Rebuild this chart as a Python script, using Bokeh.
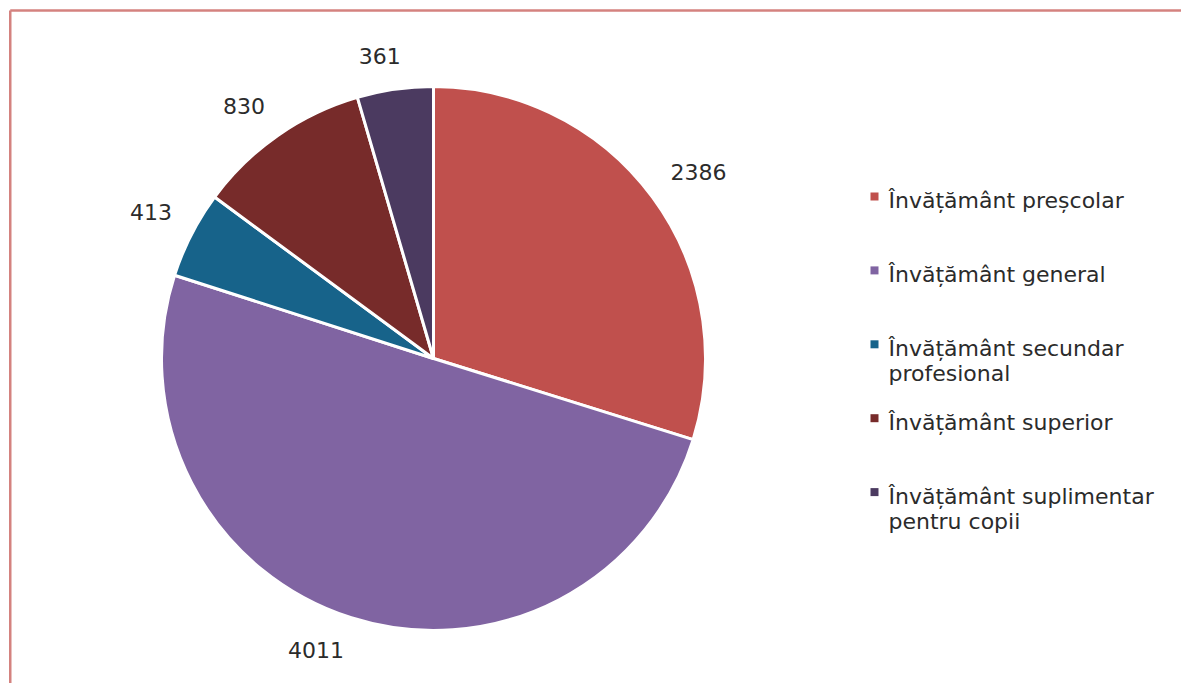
import math
from bokeh.plotting import figure
from bokeh.models import Range1d
from bokeh.core.properties import value
from bokeh.embed import file_html
from bokeh.resources import INLINE

categories = ["Învățământ preșcolar", "Învățământ general",
              "Învățământ secundar profesional", "Învățământ superior",
              "Învățământ suplimentar pentru copii"]
legend_lines = [["Învățământ preșcolar"], ["Învățământ general"],
                ["Învățământ secundar", "profesional"], ["Învățământ superior"],
                ["Învățământ suplimentar", "pentru copii"]]
values = [2386, 4011, 413, 830, 361]
colors = ["#C0504D", "#8064A2", "#17638A", "#772B2A", "#4B3A60"]

W, H = 1181, 683
p = figure(width=W, height=H, output_backend="svg", toolbar_location=None,
           x_range=Range1d(0, W), y_range=Range1d(-H, 0),
           min_border=0, outline_line_color=None)
p.axis.visible = False
p.grid.visible = False
p.background_fill_color = "white"
p.border_fill_color = "white"

FONT = "DejaVu Sans"
FS = "22px"
TXT = "#2b2b2b"

# frame border (top & left visible)
p.segment(x0=[9.75, 9.75], y0=[-10, -10], x1=[9.75, W], y1=[-H, -10],
          line_color="#D4827F", line_width=2.5)

cx, cy, R = 433, -358, 272
total = float(sum(values))
cum = 0.0
starts, ends, mids = [], [], []
for v in values:
    a0 = math.pi / 2 - 2 * math.pi * cum / total
    cum += v
    a1 = math.pi / 2 - 2 * math.pi * cum / total
    starts.append(a0)
    ends.append(a1)
    mids.append((a0 + a1) / 2)

p.wedge(x=[cx] * len(values), y=[cy] * len(values), radius=R,
        start_angle=starts, end_angle=ends, direction="clock",
        fill_color=colors, line_color="white", line_width=3)

# data labels, outside end
lx, ly, lt = [], [], []
gap, bh, k = 21, 25, 4
for v, m in zip(values, mids):
    s = str(v)
    bw = len(s) * 14.5
    c, sn = math.cos(m), math.sin(m)
    px, py = cx + (R + gap) * c, cy + (R + gap) * sn
    fx = min(1.0, abs(c) * k) * (1 if c >= 0 else -1)
    fy = min(1.0, abs(sn) * k) * (1 if sn >= 0 else -1)
    lx.append(px + fx * bw / 2)
    ly.append(py + fy * bh / 2)
    lt.append(s)
p.text(x=lx, y=ly, text=lt, text_align="center", text_baseline="middle",
       text_font=value(FONT), text_font_size=FS, text_color=TXT)

# legend
y0, step, lh = -196, 73.9, 25
mx, my, tx, ty, tt = [], [], [], [], []
for i, lines in enumerate(legend_lines):
    y = y0 - i * step
    mx.append(874)
    my.append(y)
    for j, ln in enumerate(lines):
        tx.append(888)
        ty.append(y - 4 - j * lh)
        tt.append(ln)
p.scatter(x=mx, y=my, marker="square", size=8, fill_color=colors, line_color=None)
p.text(x=tx, y=ty, text=tt, text_align="left", text_baseline="middle",
       text_font=value(FONT), text_font_size=FS, text_color=TXT)

open("out.html", "w").write(file_html(p, INLINE))
